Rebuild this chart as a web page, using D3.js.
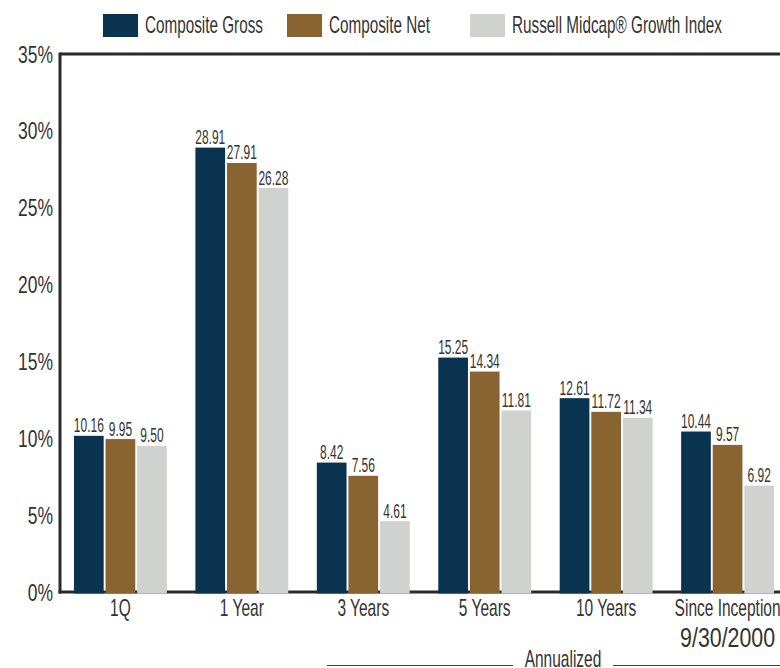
<!DOCTYPE html>
<html>
<head>
<meta charset="utf-8">
<script src="https://cdn.jsdelivr.net/npm/d3@7"></script>
<style>
  body { margin: 0; background: #fff; }
  text { font-family: "Liberation Sans", Arial, sans-serif; fill: #333; }
</style>
</head>
<body>
<svg id="chart" width="780" height="668"></svg>
<script>
// data
const categories = ['1Q', '1 Year', '3 Years', '5 Years', '10 Years', 'Since Inception|9/30/2000'];
const seriesNames = ['Composite Gross', 'Composite Net', 'Russell Midcap\u00AE Growth Index'];
const gross = [10.16, 28.91, 8.42, 15.25, 12.61, 10.44];
const net = [9.95, 27.91, 7.56, 14.34, 11.72, 9.57];
const russell = [9.50, 26.28, 4.61, 11.81, 11.34, 6.92];
const yTicks = [0, 5, 10, 15, 20, 25, 30, 35];
const colors = ['#0a3350', '#8a6430', '#d0d2cf'];

const svg = d3.select('#chart');
const mLeft = 60, mTop = 54, mBottom = 592, mRight = 788;

const x = d3.scaleBand().domain(categories).range([mLeft, mRight])
  .paddingInner(0.235).paddingOuter(0.115);
const xs = d3.scaleBand().domain(seriesNames).range([0, x.bandwidth()]).paddingInner(0.06);
const y = d3.scaleLinear().domain([0, 35]).range([mBottom, mTop]);
const color = d3.scaleOrdinal().domain(seriesNames).range(colors);

const rows = categories.map((c, i) => ({
  cat: c,
  vals: [gross[i], net[i], russell[i]].map((v, j) => ({ name: seriesNames[j], v: v }))
}));

// the original face is a narrow one: measure a sample string and squeeze to its width
function squeeze(sample, size, want) {
  const t = svg.append('text').style('font-size', size + 'px').text(sample);
  const w = t.node().getComputedTextLength();
  t.remove();
  return want / w;
}
function narrow(sel, fx, fy, sx) {
  sel.attr('transform', (d, i) => 'translate(' + fx(d, i) + ',' + fy(d, i) + ') scale(' + sx + ',1)');
}
const sxY = squeeze('35%', 23, 35);
const sxVal = squeeze('28.91', 19.5, 30);
const sxCat = squeeze('Since Inception', 23, 106);
const sxDate = squeeze('9/30/2000', 27, 95);
const sxLeg = squeeze('Composite Gross', 23, 118);

// frame: top rule, left axis, base line
svg.append('line').attr('x1', mLeft).attr('x2', 780).attr('y1', mTop).attr('y2', mTop)
  .attr('stroke', '#2a2a2a').attr('stroke-width', 3);
svg.append('line').attr('x1', mLeft).attr('x2', mLeft).attr('y1', mTop - 1.5).attr('y2', mBottom + 1.5)
  .attr('stroke', '#2a2a2a').attr('stroke-width', 3);
svg.append('line').attr('x1', mLeft - 1.5).attr('x2', 780).attr('y1', mBottom).attr('y2', mBottom)
  .attr('stroke', '#2a2a2a').attr('stroke-width', 3);

// y labels
svg.selectAll('.ytick').data(yTicks).enter().append('text')
  .attr('text-anchor', 'end').style('font-size', '23px')
  .text(d => d + '%')
  .call(narrow, () => 53, d => y(d) + 8.5, sxY);

// bars
const g = svg.selectAll('.grp').data(rows).enter().append('g')
  .attr('transform', d => 'translate(' + x(d.cat) + ',0)');
g.selectAll('rect').data(d => d.vals).enter().append('rect')
  .attr('x', d => xs(d.name)).attr('width', xs.bandwidth())
  .attr('y', d => y(d.v)).attr('height', d => y(0) - y(d.v) + 1.5)
  .attr('fill', d => color(d.name));
g.selectAll('.val').data(d => d.vals).enter().append('text')
  .attr('text-anchor', 'middle').style('font-size', '19.5px')
  .text(d => d.v.toFixed(2))
  .call(narrow, d => xs(d.name) + xs.bandwidth() / 2, d => y(d.v) - 3.5, sxVal);

// category labels, second line (date) kept as its own text
const labLines = [];
categories.forEach(c => c.split('|').forEach((s, i) => labLines.push({ cat: c, s: s, line: i })));
svg.selectAll('.xlab').data(labLines).enter().append('text')
  .attr('text-anchor', 'middle').style('font-size', d => d.line ? '27px' : '23px')
  .text(d => d.s)
  .attr('transform', d => 'translate(' + (x(d.cat) + x.bandwidth() / 2) + ',' + (d.line ? 647 : 616) +
    ') scale(' + (d.line ? sxDate : sxCat) + ',1)');

// annualized bracket
svg.append('text').datum('Annualized').attr('text-anchor', 'middle')
  .style('font-size', '23px').text(d => d)
  .call(narrow, () => 563, () => 667, sxCat);
svg.append('line').attr('x1', 327).attr('x2', 513).attr('y1', 665.5).attr('y2', 665.5)
  .attr('stroke', '#444').attr('stroke-width', 1);
svg.append('line').attr('x1', 613).attr('x2', 780).attr('y1', 665.5).attr('y2', 665.5)
  .attr('stroke', '#444').attr('stroke-width', 1);

// legend
const legX = [103, 287, 470];
const lg = svg.selectAll('.leg').data(seriesNames).enter().append('g')
  .attr('transform', (d, i) => 'translate(' + legX[i] + ',14)');
lg.append('rect').attr('width', 35).attr('height', 23).attr('fill', d => color(d));
lg.append('text').style('font-size', '23px').text(d => d)
  .call(narrow, () => 42, () => 18.5, sxLeg);
</script>
</body>
</html>
